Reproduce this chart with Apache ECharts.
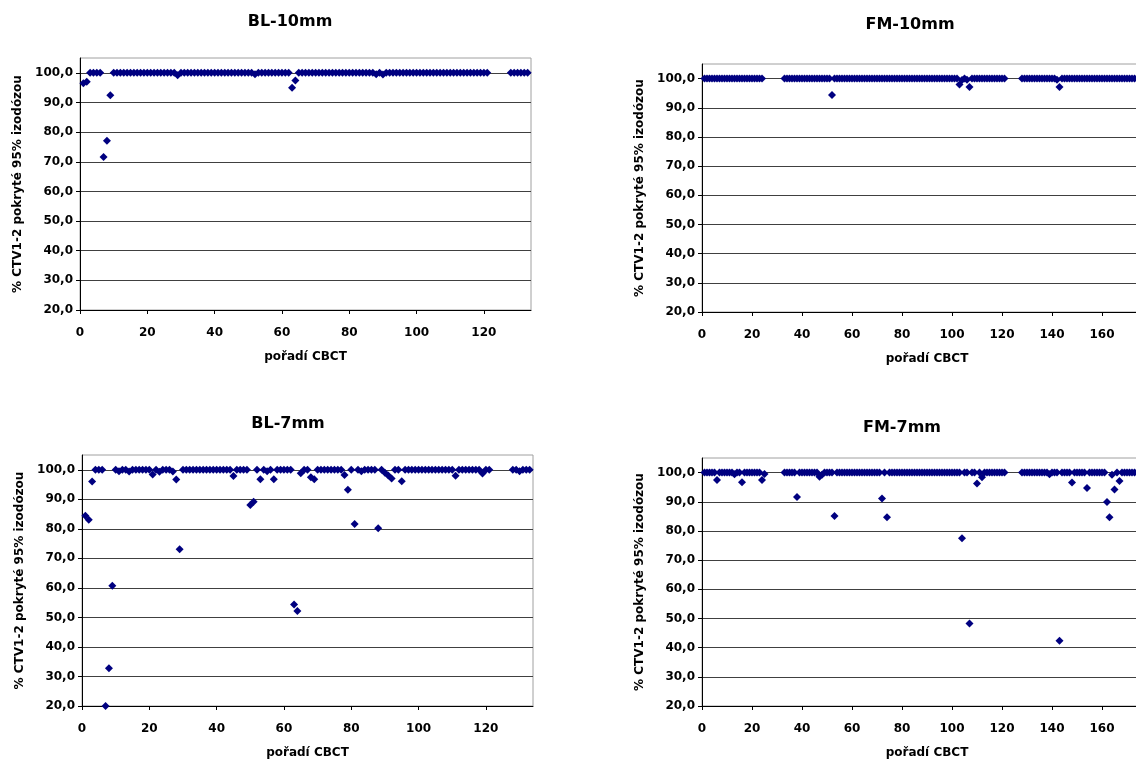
<!DOCTYPE html>
<html><head><meta charset="utf-8">
<script src="https://cdn.jsdelivr.net/npm/echarts@6/dist/echarts.min.js"></script>
<style>html,body{margin:0;padding:0;overflow:hidden;background:#fff}#c{width:1200px;height:760px}</style>
</head><body><div id="c"></div><script>
const titles = ['BL-10mm', 'FM-10mm', 'BL-7mm', 'FM-7mm'];
const yTitle = '% CTV1-2 pokryté 95% izodózou';
const xTitle = 'pořadí CBCT';
const yTicks = [20, 30, 40, 50, 60, 70, 80, 90, 100];
const xTicksBL = [0, 20, 40, 60, 80, 100, 120];
const xTicksFM = [0, 20, 40, 60, 80, 100, 120, 140, 160, 180];

// values for CBCT #1, #2, ... (null = no measurement)
const bl10 = [
  96.5, 97.0, 100, 100, 100, 100, 71.6, 77.1, 92.4, 100,
  100, 100, 100, 100, 100, 100, 100, 100, 100, 100,
  100, 100, 100, 100, 100, 100, 100, 100, 99.2, 100,
  100, 100, 100, 100, 100, 100, 100, 100, 100, 100,
  100, 100, 100, 100, 100, 100, 100, 100, 100, 100,
  100, 99.5, 100, 100, 100, 100, 100, 100, 100, 100,
  100, 100, 95.0, 97.4, 100, 100, 100, 100, 100, 100,
  100, 100, 100, 100, 100, 100, 100, 100, 100, 100,
  100, 100, 100, 100, 100, 100, 100, 99.5, 100, 99.4,
  100, 100, 100, 100, 100, 100, 100, 100, 100, 100,
  100, 100, 100, 100, 100, 100, 100, 100, 100, 100,
  100, 100, 100, 100, 100, 100, 100, 100, 100, 100,
  100, null, null, null, null, null, null, 100, 100, 100,
  100, 100, 100
];
const fm10 = [
  100, 100, 100, 100, 100, 100, 100, 100, 100, 100,
  100, 100, 100, 100, 100, 100, 100, 100, 100, 100,
  100, 100, 100, 100, null, null, null, null, null, null,
  null, null, 100, 100, 100, 100, 100, 100, 100, 100,
  100, 100, 100, 100, 100, 100, 100, 100, 100, 100,
  100, 94.4, 100, 100, 100, 100, 100, 100, 100, 100,
  100, 100, 100, 100, 100, 100, 100, 100, 100, 100,
  100, 100, 100, 100, 100, 100, 100, 100, 100, 100,
  100, 100, 100, 100, 100, 100, 100, 100, 100, 100,
  100, 100, 100, 100, 100, 100, 100, 100, 100, 100,
  100, 100, 98.0, 99.5, 100, 99.6, 97.1, 100, 100, 100,
  100, 100, 100, 100, 100, 100, 100, 100, 100, 100,
  100, null, null, null, null, null, null, 100, 100, 100,
  100, 100, 100, 100, 100, 100, 100, 100, 100, 100,
  100, 99.6, 97.1, 100, 100, 100, 100, 100, 100, 100,
  100, 100, 100, 100, 100, 100, 100, 100, 100, 100,
  100, 100, 100, 100, 100, 100, 100, 100, 100, 100,
  100, 100, 100, 100, 100, 100
];
const bl7 = [
  84.4, 83.1, 96.0, 100, 100, 100, 20.0, 32.8, 60.7, 100,
  99.5, 100, 100, 99.4, 100, 100, 100, 100, 100, 100,
  98.4, 100, 99.3, 100, 100, 100, 99.4, 96.7, 73.1, 100,
  100, 100, 100, 100, 100, 100, 100, 100, 100, 100,
  100, 100, 100, 100, 97.9, 100, 100, 100, 100, 88.1,
  89.2, 100, 96.8, 100, 99.5, 100, 96.8, 100, 100, 100,
  100, 100, 54.4, 52.2, 98.8, 100, 100, 97.5, 96.8, 100,
  100, 100, 100, 100, 100, 100, 100, 98.2, 93.2, 100,
  81.6, 100, 99.5, 100, 100, 100, 100, 80.2, 100, 99.0,
  98.1, 97.0, 100, 100, 96.1, 100, 100, 100, 100, 100,
  100, 100, 100, 100, 100, 100, 100, 100, 100, 100,
  98.0, 100, 100, 100, 100, 100, 100, 100, 98.7, 100,
  100, null, null, null, null, null, null, 100, 100, 99.5,
  100, 100, 100
];
const fm7 = [
  100, 100, 100, 100, 100, 97.5, 100, 100, 100, 100,
  100, 100, 99.4, 100, 100, 96.7, 100, 100, 100, 100,
  100, 100, 100, 97.5, 99.5, null, null, null, null, null,
  null, null, 100, 100, 100, 100, 100, 91.6, 100, 100,
  100, 100, 100, 100, 100, 100, 98.6, 99.3, 100, 100,
  100, 100, 85.1, 100, 100, 100, 100, 100, 100, 100,
  100, 100, 100, 100, 100, 100, 100, 100, 100, 100,
  100, 91.1, 100, 84.7, 100, 100, 100, 100, 100, 100,
  100, 100, 100, 100, 100, 100, 100, 100, 100, 100,
  100, 100, 100, 100, 100, 100, 100, 100, 100, 100,
  100, 100, 100, 77.5, 100, 100, 48.3, 100, 100, 96.3,
  100, 98.4, 100, 100, 100, 100, 100, 100, 100, 100,
  100, null, null, null, null, null, null, 100, 100, 100,
  100, 100, 100, 100, 100, 100, 100, 100, 99.4, 100,
  100, 100, 42.4, 100, 100, 100, 100, 96.6, 100, 100,
  100, 100, 100, 94.7, 100, 100, 100, 100, 100, 100,
  100, 89.9, 84.7, 99.3, 94.2, 100, 97.1, 100, 100, 100,
  100, 100, 100, 100, 100, 100
];

const panels = [
  { data: bl10, xMax: 134, xTicks: xTicksBL, grid: { left: 80, top: 58, width: 451, height: 252 }, title: [290, 22] },
  { data: fm10, xMax: 180, xTicks: xTicksFM, grid: { left: 702, top: 64, width: 450, height: 248 }, title: [910, 25] },
  { data: bl7, xMax: 134, xTicks: xTicksBL, grid: { left: 82, top: 455, width: 451, height: 254 }, title: [288, 424] },
  { data: fm7, xMax: 180, xTicks: xTicksFM, grid: { left: 702, top: 458, width: 450, height: 248 }, title: [902, 428] }
];

const FONT = 'DejaVu Sans';
const fmtY = v => v.toFixed(1).replace('.', ',');

const option = {
  animation: false,
  backgroundColor: '#fff',
  graphic: panels.map((p, i) => ({
    type: 'text', x: p.title[0], y: p.title[1],
    style: { text: titles[i], fontFamily: FONT, fontWeight: 'bold', fontSize: 16, fill: '#000', textAlign: 'center', textVerticalAlign: 'middle' }
  })),
  grid: panels.map(p => Object.assign({ show: true, borderColor: '#a0a0a0', borderWidth: 1, backgroundColor: '#fff' }, p.grid)),
  xAxis: panels.map((p, i) => ({
    type: 'value', gridIndex: i, min: 0, max: p.xMax, interval: 20,
    name: xTitle, nameLocation: 'middle', nameGap: 41,
    nameTextStyle: { fontFamily: FONT, fontWeight: 'bold', fontSize: 12, color: '#000' },
    axisLine: { show: true, onZero: false, lineStyle: { color: '#000', width: 1 } },
    axisTick: { show: true, length: 4, inside: false, lineStyle: { color: '#000' }, customValues: p.xTicks },
    axisLabel: { fontFamily: FONT, fontWeight: 'bold', fontSize: 12, color: '#000', margin: 17, customValues: p.xTicks },
    splitLine: { show: false }
  })),
  yAxis: panels.map((p, i) => ({
    type: 'value', gridIndex: i, min: 20, max: 105, interval: 10,
    name: yTitle, nameLocation: 'middle', nameRotate: 90, nameGap: 56,
    nameTextStyle: { fontFamily: FONT, fontWeight: 'bold', fontSize: 12, color: '#000' },
    axisLine: { show: true, onZero: false, lineStyle: { color: '#000', width: 1 } },
    axisTick: { show: true, length: 4, inside: false, lineStyle: { color: '#000' }, customValues: yTicks },
    axisLabel: { fontFamily: FONT, fontWeight: 'bold', fontSize: 12, color: '#000', margin: 7, formatter: fmtY, customValues: yTicks },
    splitLine: { show: true, lineStyle: { color: '#404040', width: 1 } }
  })),
  series: panels.map((p, i) => ({
    type: 'scatter', xAxisIndex: i, yAxisIndex: i,
    symbol: 'diamond', symbolSize: 8,
    itemStyle: { color: '#000080', opacity: 1 },
    data: p.data.map((v, k) => v == null ? null : [k + 1, v]).filter(d => d)
  }))
};

echarts.init(document.getElementById('c'), null, { renderer: 'canvas' }).setOption(option);
</script></body></html>
